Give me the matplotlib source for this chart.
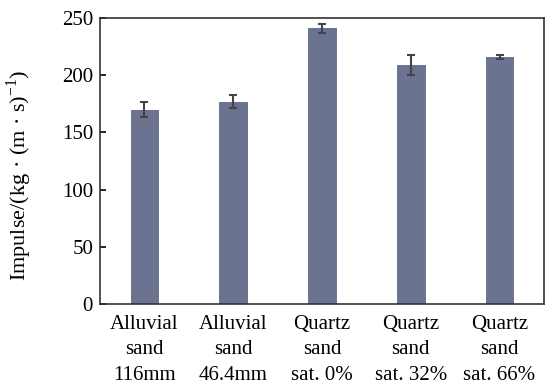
import matplotlib.pyplot as plt
import numpy as np

plt.rcParams['font.family'] = ['Liberation Serif', 'DejaVu Serif']
plt.rcParams['mathtext.fontset'] = 'custom'
plt.rcParams['mathtext.rm'] = 'Liberation Serif'

# Data
labels = ['Alluvial\nsand\n116mm', 'Alluvial\nsand\n46.4mm', 'Quartz\nsand\nsat. 0%',
          'Quartz\nsand\nsat. 32%', 'Quartz\nsand\nsat. 66%']
impulse = [170, 177, 241, 209, 216]
errors = [6.5, 5.5, 4.0, 8.5, 2.0]

fig = plt.figure(figsize=(5.45, 3.91), dpi=100)
ax = fig.add_axes([0.1835, 0.2225, 0.8145, 0.7315])

x = np.arange(len(labels))
ax.bar(x, impulse, width=0.31, color='#6b7391', edgecolor='#5f6887', linewidth=0.6,
       yerr=errors, error_kw=dict(ecolor='#444444', elinewidth=1.5, capsize=3, capthick=1.5))

ax.set_xlim(-0.5, 4.5)
ax.set_ylim(0, 250)
ax.set_yticks([0, 50, 100, 150, 200, 250])
ax.set_xticks(x)
ax.set_xticklabels(labels, fontsize=15, linespacing=1.45)
ax.tick_params(axis='x', length=0, pad=8)
ax.tick_params(axis='y', direction='in', length=4, width=1.2, labelsize=15, pad=5)
ax.set_ylabel('Impulse/(kg · (m · s)$^{-1}$)', fontsize=16)
ax.yaxis.set_label_coords(-0.149, 0.448)

for s in ax.spines.values():
    s.set_linewidth(1.2)
    s.set_color('#333333')

plt.savefig('out.png', dpi=100)
